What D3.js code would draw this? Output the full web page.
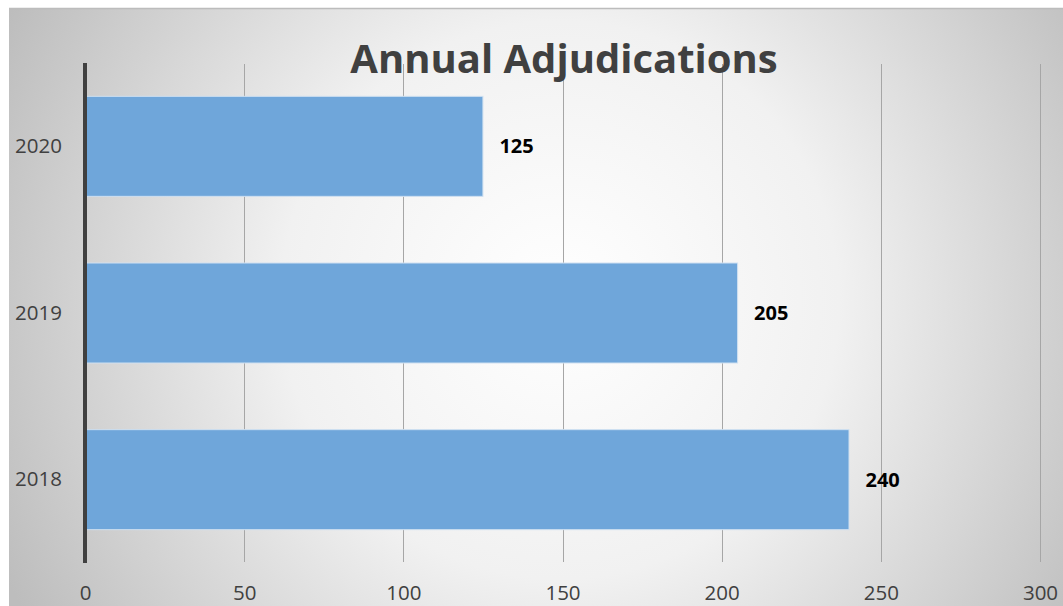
<!DOCTYPE html>
<html>
<head>
<meta charset="utf-8">
<script src="https://cdn.jsdelivr.net/npm/d3@7"></script>
<style>
  html, body { margin: 0; padding: 0; background: #fff; }
  svg { display: block; }
</style>
</head>
<body>
<svg id="chart" width="1063" height="606"></svg>
<script>
// Annual adjudication counts by year
const years = ["2020", "2019", "2018"];
const adjudications = [125, 205, 240];
const xTicks = [0, 50, 100, 150, 200, 250, 300];
const chartTitle = "Annual Adjudications";

const width = 1063, height = 606;
const font = "'Open Sans', 'DejaVu Sans', sans-serif";
const svg = d3.select("#chart");

// Radial background panel
const defs = svg.append("defs");
const grad = defs.append("radialGradient")
  .attr("id", "bg")
  .attr("gradientUnits", "userSpaceOnUse")
  .attr("cx", 560).attr("cy", 300).attr("r", 620);
grad.append("stop").attr("offset", "0%").attr("stop-color", "#ffffff");
grad.append("stop").attr("offset", "45%").attr("stop-color", "#f1f1f1");
grad.append("stop").attr("offset", "100%").attr("stop-color", "#bdbdbd");

svg.append("rect")
  .attr("x", 9).attr("y", 8)
  .attr("width", width - 9).attr("height", height - 8)
  .attr("fill", "url(#bg)");
svg.append("line")
  .attr("x1", 9).attr("x2", width).attr("y1", 8.5).attr("y2", 8.5)
  .attr("stroke", "#bcbcbc").attr("stroke-width", 1.5);

const plot = { left: 85, right: 1040, top: 63, bottom: 563 };

const x = d3.scaleLinear().domain([0, 300]).range([plot.left, plot.right]);
const y = d3.scaleBand().domain(years).range([plot.top, plot.bottom])
  .paddingInner(0.4).paddingOuter(0.2);

// Vertical gridlines
svg.append("g")
  .selectAll("line")
  .data(xTicks.filter(d => d > 0))
  .join("line")
  .attr("x1", d => Math.round(x(d)) + 0.5)
  .attr("x2", d => Math.round(x(d)) + 0.5)
  .attr("y1", plot.top + 1)
  .attr("y2", plot.bottom - 1)
  .attr("stroke", "#a6a6a6")
  .attr("stroke-width", 1);

// Bars
const data = years.map((yr, i) => ({ year: yr, value: adjudications[i] }));
svg.append("g")
  .selectAll("rect")
  .data(data)
  .join("rect")
  .attr("x", x(0))
  .attr("y", d => y(d.year))
  .attr("width", d => x(d.value) - x(0))
  .attr("height", y.bandwidth())
  .attr("fill", "#6fa6da")
  .attr("stroke", "#cfe0f1")
  .attr("stroke-width", 1);

// Value labels
svg.append("g")
  .selectAll("text")
  .data(data)
  .join("text")
  .attr("x", d => x(d.value) + 16.5)
  .attr("y", d => y(d.year) + y.bandwidth() / 2)
  .attr("dy", "0.35em")
  .attr("font-family", font)
  .attr("font-weight", "bold")
  .attr("font-size", 20)
  .attr("fill", "#000")
  .text(d => d.value);

// Category axis (left)
const yAxis = svg.append("g")
  .attr("transform", `translate(${plot.left},0)`)
  .call(d3.axisLeft(y).tickSize(0).tickPadding(23));
yAxis.select(".domain").remove();
yAxis.selectAll("text")
  .attr("font-family", font)
  .attr("font-size", 20.5)
  .attr("fill", "#404040");

svg.append("line")
  .attr("x1", plot.left).attr("x2", plot.left)
  .attr("y1", plot.top).attr("y2", plot.bottom)
  .attr("stroke", "#404040").attr("stroke-width", 4);

// Value axis (bottom)
const xAxis = svg.append("g")
  .attr("transform", `translate(0,${plot.bottom})`)
  .call(d3.axisBottom(x).tickValues(xTicks).tickSize(0).tickPadding(22));
xAxis.select(".domain").remove();
xAxis.selectAll("text")
  .attr("font-family", font)
  .attr("font-size", 20.5)
  .attr("fill", "#404040");

// Title
svg.append("text")
  .attr("x", 564)
  .attr("y", 73)
  .attr("text-anchor", "middle")
  .attr("font-family", font)
  .attr("font-weight", "bold")
  .attr("font-size", 40)
  .attr("fill", "#404040")
  .text(chartTitle);
</script>
</body>
</html>
